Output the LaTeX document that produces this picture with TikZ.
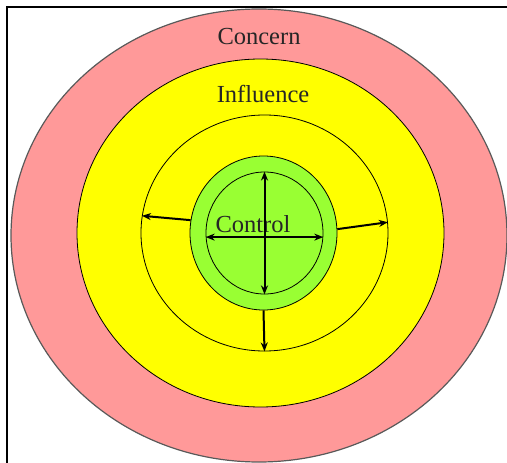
\documentclass[tikz,border=0pt]{standalone}
\usepackage{fontspec}
\setmainfont{Liberation Serif}
\usepackage{tikz}
\usetikzlibrary{shapes.geometric}
\usetikzlibrary{arrows.meta}
\definecolor{concernpink}{RGB}{255,153,153}
\definecolor{influenceyellow}{RGB}{255,255,0}
\definecolor{controlgreen}{RGB}{153,255,51}

\begin{document}
\begin{tikzpicture}[x=1pt,y=-1pt,
    ring/.style={ellipse,draw,inner sep=0pt,line width=0.8pt},
    push/.style={line width=2pt,-{Stealth[length=9pt,width=7pt]}},
    both/.style={line width=2pt,{Stealth[length=9pt,width=7pt]}-{Stealth[length=9pt,width=7pt]}},
    lbl/.style={font=\fontsize{24.5}{24.5}\selectfont,inner sep=0pt,text=black!85}]
  \useasboundingbox (0,0) rectangle (507,463);

  % Frame
  \draw[line width=2pt] (7,463) -- (7,6.5) -- (507,6.5);

  % Circles
  \node[ring,draw=black!65,line width=1.2pt,fill=concernpink,minimum width=496pt,minimum height=453pt] (concern) at (259,235.5) {};
  \node[ring,fill=influenceyellow,minimum width=367pt,minimum height=348pt] (influence) at (260.5,233) {};
  \node[ring,minimum width=247pt,minimum height=236pt] (reach) at (264.5,233) {};
  \node[ring,fill=controlgreen,minimum width=147pt,minimum height=154pt] (control) at (263.5,233) {};
  \node[ring,minimum width=117pt,minimum height=122pt] (core) at (264.5,233) {};

  % Labels
  \node[lbl] (concerntext) at (259,37) {Concern};
  \node[lbl] (influencetext) at (263,94) {Influence};
  \node[lbl] (controltext) at (253,224) {Control};

  % Arrows
  \draw[both] (core.north) -- (core.south);
  \draw[both] (core.184) -- (core.356);
  \draw[push] (control.170) -- (reach.172);
  \draw[push] (control.3) -- (reach.5);
  \draw[push] (control.south) -- (reach.south);
\end{tikzpicture}
\end{document}
